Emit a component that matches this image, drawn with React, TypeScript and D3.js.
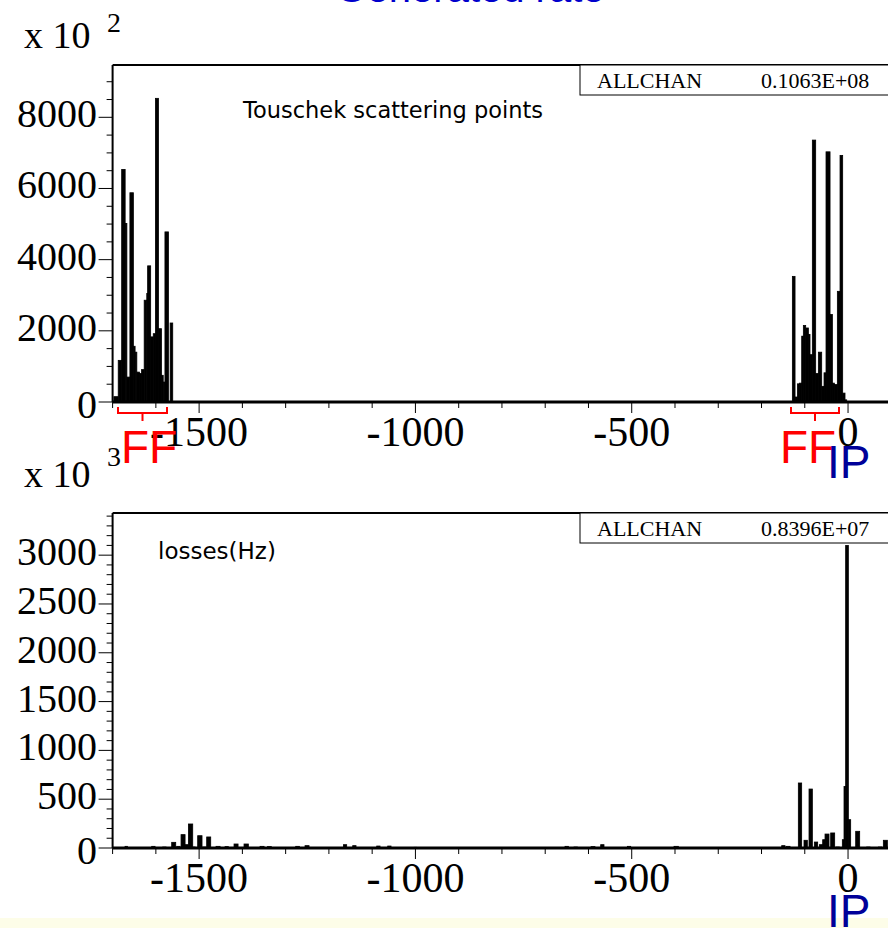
import React from "react";
import * as d3 from "d3";

// ---------- data ----------
// Top panel: Touschek scattering points (units of 10^2); each bar spans [lo, hi] in x units
const touschekLo = [
  -1697, -1687, -1679, -1671, -1667, -1660, -1652, -1648, -1644, -1638, -1633, -1627, -1621,
  -1619, -1612, -1606, -1601, -1594, -1587, -1583, -1579, -1567,
  -128.7, -122.5, -117.1, -112.5, -107.1, -103.3, -97.9, -91.7, -87.9, -82.5, -74.8, -68.6,
  -60.9, -55.5, -50.9, -41.6, -36.2, -31.6, -24.7, -18.5, -12.4, -7,
];
const touschekHi = [
  -1687, -1679, -1671, -1667, -1660, -1652, -1648, -1644, -1638, -1633, -1627, -1621, -1619,
  -1612, -1606, -1601, -1594, -1587, -1583, -1579, -1571, -1561,
  -122.5, -117.1, -112.5, -107.1, -103.3, -97.9, -91.7, -87.9, -82.5, -74.8, -68.6, -60.9,
  -55.5, -50.9, -41.6, -36.2, -31.6, -24.7, -18.5, -12.4, -7, -3.1,
];
const touschekVal = [
  150, 1170, 6535, 5017, 700, 5880, 1566, 1400, 840, 800, 910, 2860, 3050,
  3826, 1830, 1920, 8533, 2060, 750, 560, 4780, 2220,
  3530, 140, 510, 530, 1850, 2150, 2080, 1900, 1330, 7360, 800, 1400,
  440, 820, 7030, 2460, 530, 490, 3110, 6930, 250, 60,
];

// Bottom panel: losses (Hz, units of 10^3); each bar spans [lo, hi]
const lossLo = [
  -1671.2, -1609.6, -1584.2, -1563.4, -1551.8, -1541.8, -1532.5, -1524.8, -1514.8, -1503.3,
  -1491.7, -1482.5, -1460.9, -1440.1, -1419.3, -1396.2, -1359.2, -1342.2, -1276.7, -1255.2,
  -1166.5, -1145, -1089.5, -1064.1, -1003.2,
  -654.2, -633.4, -594.1, -571.8, -510.1, -402.3, -153.4, -143.4, -114.9, -101.8, -90.2,
  -77.9, -66.3, -58.6, -53.2, -40.1, -27.8, -13.2, -9.3, -5.5, 0.7, 17.7, 43.1, 70.1, 81.6,
];
const lossHi = [
  -1665.8, -1601.9, -1576.5, -1554.1, -1544.1, -1532.5, -1524.8, -1514.8, -1509.4, -1493.3,
  -1484, -1473.2, -1451.6, -1432.4, -1410, -1386.2, -1349.9, -1333, -1268.3, -1245.9,
  -1158.9, -1137.3, -1081.8, -1056.4, -997.1,
  -646.5, -625.7, -584.9, -564.1, -502.4, -392.3, -145.7, -134.1, -107.2, -94.1, -82.5,
  -70.2, -58.6, -53.2, -44, -30.9, -20.1, -9.3, -5.5, 0.7, 6.1, 26.9, 50.8, 77.8, 90.9,
];
const lossVal = [
  17, 17, 10, 58, 17, 137, 34, 246, 10, 126,
  10, 113, 17, 14, 41, 41, 17, 14, 17, 24,
  34, 24, 20, 20, 7,
  17, 10, 14, 34, 17, 17, 24, 17, 666, 79, 604,
  61, 34, 85, 143, 154, 10, 85, 630, 3100, 290, 171, 10, 10, 79,
];

// Axis ticks
const xMajorTicks = [-1500, -1000, -500, 0];
const topYLabels = [0, 2000, 4000, 6000, 8000];
const bottomYLabels = [0, 500, 1000, 1500, 2000, 2500, 3000];

// ---------- layout ----------
const W = 888;
const H = 928;
const LEFT = 112.6;
const RIGHT = 891.3;
const serif = "'Liberation Serif', 'Times New Roman', serif";
const sans = "'Liberation Sans', Arial, sans-serif";
const gothic = "'DejaVu Sans', sans-serif";

const x = d3.scaleLinear().domain([-1700, 100]).range([LEFT, RIGHT]);

interface PanelProps {
  top: number;
  bottom: number;
  yMax: number;
  minorStep: number;
  labels: number[];
  children?: React.ReactNode;
}

function Panel({ top, bottom, yMax, minorStep, labels, children }: PanelProps) {
  const y = d3.scaleLinear().domain([0, yMax]).range([bottom, top]);
  const minorY = d3.range(0, yMax + 0.001, minorStep);
  const xMinor = d3.range(-1700, 101, 100);
  return (
    <g>
      {children}
      {minorY.map((v) => {
        const major = labels.includes(v);
        return (
          <line
            key={"yt" + v}
            x1={LEFT - (major ? 14 : 6)}
            x2={LEFT}
            y1={y(v)}
            y2={y(v)}
            stroke="#000"
            strokeWidth={1}
          />
        );
      })}
      {labels.map((v) => (
        <text
          key={"yl" + v}
          x={97}
          y={y(v) + (v === 0 ? 16 : 10)}
          textAnchor="end"
          fontFamily={serif}
          fontSize={40}
          fill="#000"
        >
          {v}
        </text>
      ))}
      {xMinor.map((v) => {
        const major = xMajorTicks.includes(v);
        return (
          <line
            key={"xt" + v}
            x1={x(v)}
            x2={x(v)}
            y1={bottom}
            y2={bottom + (major ? 11 : 6)}
            stroke="#000"
            strokeWidth={1}
          />
        );
      })}
      {xMajorTicks.map((v) => (
        <text
          key={"xl" + v}
          x={x(v)}
          y={bottom + 44}
          textAnchor="middle"
          fontFamily={serif}
          fontSize={42}
          fill="#000"
        >
          {v}
        </text>
      ))}
      <line x1={LEFT} x2={LEFT} y1={top} y2={bottom} stroke="#000" strokeWidth={2} />
      <line x1={LEFT} x2={W + 5} y1={top} y2={top} stroke="#000" strokeWidth={2} />
      <line x1={LEFT} x2={W + 5} y1={bottom} y2={bottom} stroke="#000" strokeWidth={3} />
    </g>
  );
}

function StatBox({ top, value }: { top: number; value: string }) {
  return (
    <g>
      <rect x={580} y={top} width={W} height={30} fill="#fff" stroke="#000" strokeWidth={1} />
      <text x={597} y={top + 23} fontFamily={serif} fontSize={22} fill="#000">
        ALLCHAN
      </text>
      <text x={761} y={top + 23} fontFamily={serif} fontSize={22} fill="#000">
        {value}
      </text>
    </g>
  );
}

function Bracket({ x1, x2 }: { x1: number; x2: number }) {
  const cx = (x1 + x2) / 2;
  return (
    <path
      d={`M${x1},407 L${x1},413 L${x2},413 L${x2},407 M${cx},413 L${cx},421`}
      fill="none"
      stroke="#ff0000"
      strokeWidth={2}
    />
  );
}

export default function App() {
  const topTop = 65;
  const topBottom = 402;
  const topMax = 9470;
  const yTop = d3.scaleLinear().domain([0, topMax]).range([topBottom, topTop]);

  const botTop = 513;
  const botBottom = 848;
  const botMax = 3432;
  const yBot = d3.scaleLinear().domain([0, botMax]).range([botBottom, botTop]);

  return (
    <svg
      width={W}
      height={H}
      viewBox={`0 0 ${W} ${H}`}
      style={{ position: "absolute", left: 0, top: 0, background: "#fff" }}
    >
      <rect x={0} y={0} width={W} height={H} fill="#fff" />
      <rect x={0} y={918} width={W} height={10} fill="#fdfde8" />

      {/* partially visible blue title */}
      <text x={470} y={2} textAnchor="middle" fontFamily={sans} fontSize={40} fill="#0000cc">
        Generated rate
      </text>

      {/* exponent labels */}
      <text x={24} y={48} fontFamily={serif} fontSize={38} fill="#000">
        x 10
      </text>
      <text x={107} y={32} fontFamily={serif} fontSize={28} fill="#000">
        2
      </text>
      <text x={24} y={487} fontFamily={serif} fontSize={38} fill="#000">
        x 10
      </text>
      <text x={107} y={466} fontFamily={serif} fontSize={28} fill="#000">
        3
      </text>

      {/* top panel */}
      <Panel top={topTop} bottom={topBottom} yMax={topMax} minorStep={500} labels={topYLabels}>
        {touschekLo.map((lo, i) => (
          <rect
            key={"tb" + i}
            x={x(lo)}
            y={yTop(touschekVal[i])}
            width={x(touschekHi[i]) - x(lo)}
            height={topBottom - yTop(touschekVal[i])}
            fill="#000"
            stroke="#000"
            strokeWidth={0.8}
          />
        ))}
      </Panel>
      <StatBox top={topTop} value="0.1063E+08" />
      <text x={243} y={118} fontFamily={gothic} fontSize={22.5} fill="#000">
        Touschek scattering points
      </text>

      {/* bottom panel */}
      <Panel top={botTop} bottom={botBottom} yMax={botMax} minorStep={100} labels={bottomYLabels}>
        {lossLo.map((lo, i) => (
          <rect
            key={"lb" + i}
            x={x(lo)}
            y={yBot(lossVal[i])}
            width={x(lossHi[i]) - x(lo)}
            height={botBottom - yBot(lossVal[i])}
            fill="#000"
            stroke="#000"
            strokeWidth={0.8}
          />
        ))}
      </Panel>
      <StatBox top={botTop} value="0.8396E+07" />
      <text x={158} y={559} fontFamily={gothic} fontSize={23} fill="#000">
        losses(Hz)
      </text>

      {/* FF / IP annotations */}
      <Bracket x1={118} x2={167} />
      <Bracket x1={791} x2={839} />
      <text x={121} y={463} fontFamily={sans} fontSize={46} fill="#ff0000">
        FF
      </text>
      <text x={780} y={463} fontFamily={sans} fontSize={46} fill="#ff0000">
        FF
      </text>
      <text x={827} y={478} fontFamily={sans} fontSize={46} fill="#000099">
        IP
      </text>
      <text x={827} y={927} fontFamily={sans} fontSize={46} fill="#000099">
        IP
      </text>
    </svg>
  );
}
